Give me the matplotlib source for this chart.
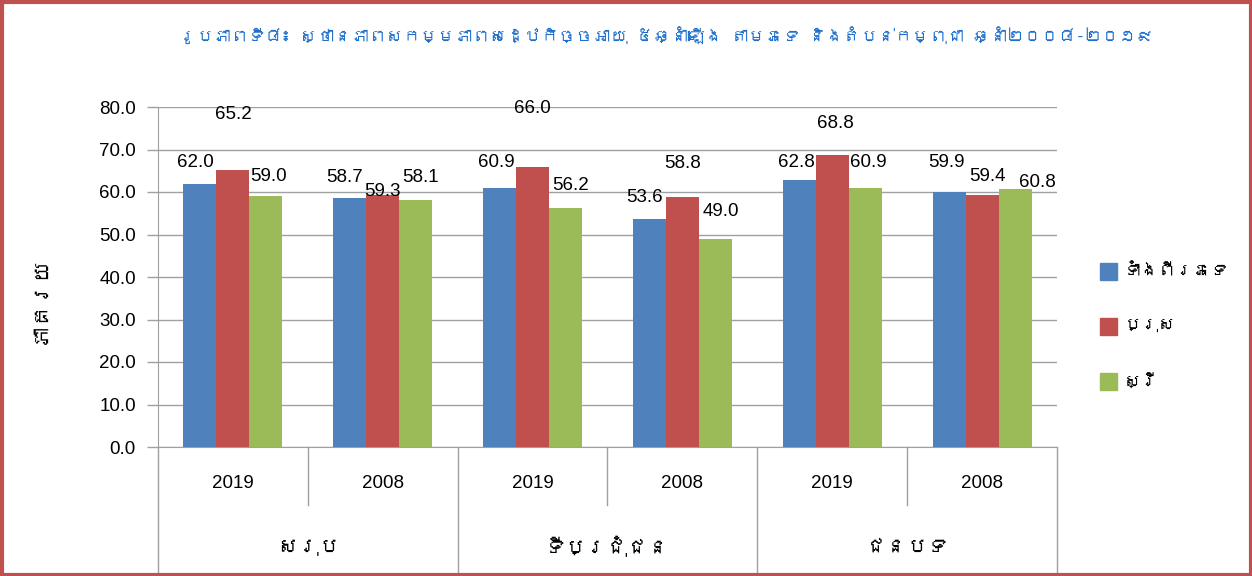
import matplotlib
matplotlib.use('Agg')
import matplotlib.pyplot as plt
import numpy as np
from matplotlib import font_manager
from matplotlib.ft2font import FT2Font
from matplotlib.patches import Rectangle
from matplotlib.lines import Line2D

# ---------------- data ----------------
title = "រូបភាពទី៨៖ ស្ថានភាពសកម្មភាពសេដ្ឋកិច្ចអាយុ ៥ឆ្នាំឡើង តាមភេទ និងតំបន់កម្ពុជា ឆ្នាំ២០០៨-២០១៩"
y_label = "ភាគរយ"
groups = ["សរុប", "ទីប្រជុំជន", "ជនបទ"]
years = ["2019", "2008", "2019", "2008", "2019", "2008"]
series_names = ["ទាំងពីរភេទ", "ប្រុស", "ស្រី"]
both_sexes = [62.0, 58.7, 60.9, 53.6, 62.8, 59.9]
male = [65.2, 59.3, 66.0, 58.8, 68.8, 59.4]
female = [59.0, 58.1, 56.2, 49.0, 60.9, 60.8]
y_ticks = [0, 10, 20, 30, 40, 50, 60, 70, 80]

# label offsets in pixels (dx, dy above bar top) - styling only
label_offsets = [
    [(-5, 21), (0, 55), (3, 20)],
    [(-5, 20), (0, 3), (5, 23)],
    [(-3, 26), (0, 58), (5, 23)],
    [(-5, 22), (0, 34), (5, 27)],
    [(-3, 18), (3, 31), (3, 26)],
    [(-3, 30), (5, 18), (22, 6)],
]

# ---------------- fonts ----------------
def find_khmer():
    for f in font_manager.fontManager.ttflist:
        try:
            cm = FT2Font(f.fname).get_charmap()
        except Exception:
            continue
        if 0x1780 in cm and 0x1794 in cm:
            return f.name
    return None

kh = find_khmer()
fam = ([kh] if kh else []) + ['Liberation Sans', 'DejaVu Sans']
plt.rcParams['font.family'] = fam
latin = ['Liberation Sans', 'DejaVu Sans']

colors = ['#4F81BD', '#C0504D', '#9BBB59']
grey = '#A0A0A0'

W, H = 1252, 576
fig = plt.figure(figsize=(W / 100, H / 100), dpi=100)
L, R, T, B = 158, 1057, 107, 447
ax = fig.add_axes([L / W, 1 - B / H, (R - L) / W, (B - T) / H])

x = np.arange(len(years))
bw = 0.22
data = [both_sexes, male, female]
for i, (vals, c) in enumerate(zip(data, colors)):
    ax.bar(x + (i - 1) * bw, vals, width=bw, color=c, zorder=3)

ax.set_xlim(-0.5, len(years) - 0.5)
ax.set_ylim(0, 80)
ax.set_yticks(y_ticks)
ax.set_yticklabels([f"{v:.1f}" for v in y_ticks], fontsize=13.5, family=latin)
ax.tick_params(axis='y', length=8, color=grey, width=1, pad=8)
ax.set_xticks([])
ax.grid(axis='y', color=grey, lw=1, zorder=0)
for s in ['top', 'right']:
    ax.spines[s].set_visible(False)
for s in ['left', 'bottom']:
    ax.spines[s].set_color(grey)

# data labels
for gi in range(len(years)):
    for si in range(3):
        v = data[si][gi]
        dx, dy = label_offsets[gi][si]
        ax.annotate(f"{v:.1f}", (x[gi] + (si - 1) * bw, v), xytext=(dx * 0.72, dy * 0.72),
                    textcoords='offset points', ha='center', va='center', fontsize=13.5,
                    family=latin, zorder=5)

# multi-level category axis
tr = ax.get_xaxis_transform()
ah = B - T
y_year = -(484 - B) / ah
y_grp = -(547 - B) / ah
y_short = -(505 - B) / ah
y_long = -(H - B) / ah
for k in range(len(years) + 1):
    xb = k - 0.5
    y2 = y_long if k % 2 == 0 else y_short
    ax.add_line(Line2D([xb, xb], [0, y2], transform=tr, color=grey, lw=1, clip_on=False))
for k, yr in enumerate(years):
    ax.text(k, y_year, yr, transform=tr, ha='center', va='center', fontsize=13.5, family=latin)
grp_texts = []
for g, name in enumerate(groups):
    grp_texts.append(ax.text(2 * g + 0.5, y_grp, name, transform=tr, ha='center', va='center', fontsize=16))

# y label
fig.text(40 / W, 1 - 300 / H, y_label, rotation=90, ha='center', va='center', fontsize=16)

# title
title_t = fig.text(666 / W, 1 - 35 / H, title, ha='center', va='center', fontsize=20,
                   style='italic', color='#1F6FCC')

# legend
leg_texts = []
for i, (name, c) in enumerate(zip(series_names, colors)):
    yc = [271, 326, 381][i]
    fig.patches.append(Rectangle((1100 / W, 1 - (yc + 8.5) / H), 17 / W, 17 / H,
                                 transform=fig.transFigure, color=c, figure=fig))
    leg_texts.append(fig.text(1124 / W, 1 - yc / H, name, ha='left', va='center', fontsize=15))

# border
fig.patches.append(Rectangle((1.5 / W, 1.5 / H), (W - 3) / W, (H - 3) / H, transform=fig.transFigure,
                             fill=False, edgecolor='#C0504D', lw=3, figure=fig))

# fit wide (unshaped) Khmer texts into the reference's widths
renderer = fig.canvas.get_renderer()

def fit_group(texts, max_width):
    widest = max(t.get_window_extent(renderer).width for t in texts)
    if widest > max_width:
        k = max_width / widest
        for t in texts:
            t.set_fontsize(t.get_fontsize() * k)

fit_group([title_t], 975)
fit_group(leg_texts, 105)
fit_group(grp_texts, 125)

fig.savefig('out.png', dpi=100)
